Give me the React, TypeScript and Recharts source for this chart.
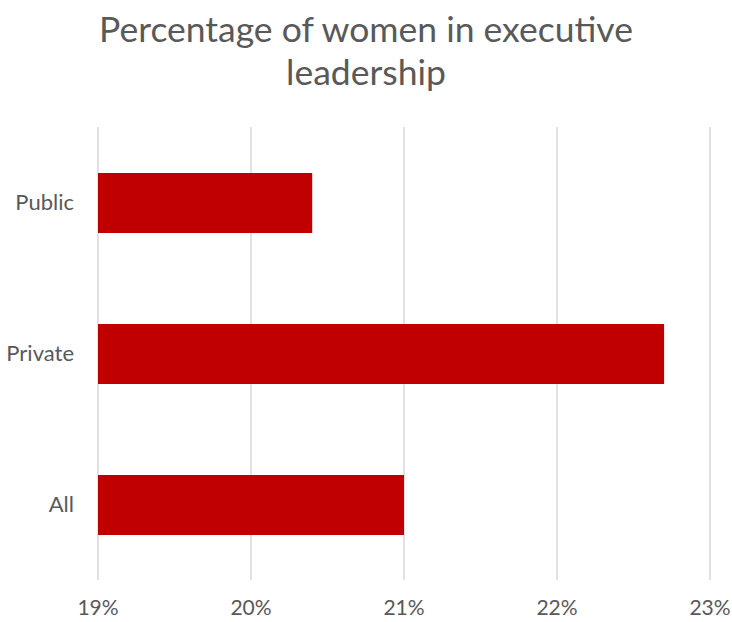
import React from "react";
import { BarChart, Bar, XAxis, YAxis, CartesianGrid } from "recharts";

// values, in percent
const categories = ["Public", "Private", "All"];
const shares = [20.4, 22.7, 21.0];
const xTicks = [19, 20, 21, 22, 23];

const data = categories.map((name, i) => ({ name, value: shares[i] }));

const FONT = "Lato, 'Open Sans', sans-serif";
const TEXT = "#595959";

export default function App() {
    return (
        <div style={{ position: "absolute", left: 0, top: 0, width: 732, height: 622, background: "#fff" }}>
            <div
                style={{
                    position: "absolute",
                    left: 0,
                    top: 7,
                    width: 732,
                    textAlign: "center",
                    fontFamily: FONT,
                    fontSize: 35.5,
                    lineHeight: "43px",
                    color: TEXT,
                }}
            >
                Percentage of women in executive
                <br />
                leadership
            </div>
            <BarChart
                width={732}
                height={622}
                data={data}
                layout="vertical"
                margin={{ top: 127, right: 22, bottom: 0, left: 0 }}
            >
                <CartesianGrid horizontal={false} stroke="#d9d9d9" strokeWidth={1.5} />
                <XAxis
                    type="number"
                    domain={[19, 23]}
                    ticks={xTicks}
                    tickFormatter={(v) => `${v}%`}
                    axisLine={false}
                    tickLine={false}
                    tickSize={0}
                    tickMargin={20}
                    height={42}
                    interval={0}
                    tick={{ fill: TEXT, fontSize: 21, fontFamily: FONT }}
                />
                <YAxis
                    type="category"
                    dataKey="name"
                    width={98}
                    axisLine={false}
                    tickLine={false}
                    tickSize={0}
                    tickMargin={24}
                    tick={{ fill: TEXT, fontSize: 22, fontFamily: FONT }}
                />
                <Bar dataKey="value" fill="#c00000" barSize={60} isAnimationActive={false} />
            </BarChart>
        </div>
    );
}
